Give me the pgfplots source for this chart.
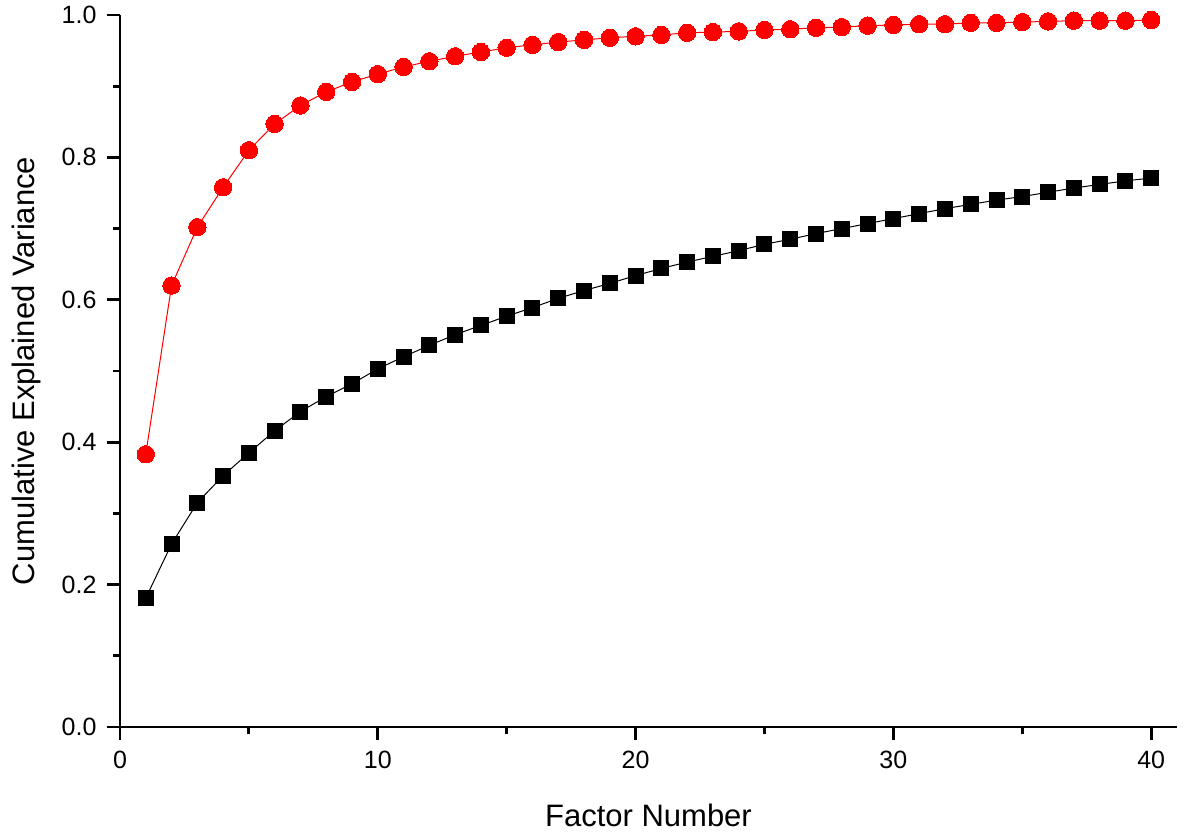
\documentclass[border=0pt]{standalone}
\usepackage{pgfplots}
\pgfplotsset{compat=1.18}
\usepackage{fontspec}
\setmainfont{Liberation Sans}
\definecolor{myred}{RGB}{255,0,0}
\begin{document}
\begin{tikzpicture}
\begin{axis}[
  scale only axis,
  width=1057pt, height=712pt,
  xmin=0, xmax=41, ymin=0, ymax=1.0,
  axis x line=bottom, axis y line=left,
  axis line style={-, line width=2.8pt},
  every outer x axis line/.append style={-, line width=2.8pt},
  every outer y axis line/.append style={-, line width=2.8pt},
  clip=false,
  xtick={0,10,20,30,40},
  ytick={0,0.2,0.4,0.6,0.8,1.0},
  minor tick num=1,
  tick align=outside,
  major tick length=13pt,
  minor tick length=7pt,
  major tick style={black, line width=2.8pt},
  minor tick style={black, line width=2.8pt},
  /pgf/number format/assume math mode=true,
  tick label style={font=\fontsize{25}{29}\selectfont},
  yticklabel style={xshift=-7pt, /pgf/number format/.cd, fixed, fixed zerofill, precision=1},
  xticklabel style={yshift=-8pt},
  xlabel={Factor Number},
  ylabel={Cumulative Explained Variance},
  label style={font=\fontsize{31}{36}\selectfont},
  xlabel style={at={([yshift=-88pt]axis description cs:0.5,0)}, anchor=center},
  ylabel style={at={([xshift=-94pt]axis description cs:0,0.5)}, anchor=center},
]
\addplot[myred, line width=1pt, mark=*, mark size=8.7pt, mark options={fill=myred, draw=myred, line width=0pt}] coordinates {
(1,0.383) (2,0.620) (3,0.702) (4,0.758) (5,0.810) (6,0.847) (7,0.873) (8,0.892) (9,0.906) (10,0.917)
(11,0.927) (12,0.935) (13,0.942) (14,0.948) (15,0.954) (16,0.958) (17,0.962) (18,0.965) (19,0.968) (20,0.970)
(21,0.972) (22,0.975) (23,0.976) (24,0.977) (25,0.979) (26,0.980) (27,0.982) (28,0.983) (29,0.985) (30,0.986)
(31,0.987) (32,0.987) (33,0.989) (34,0.989) (35,0.990) (36,0.991) (37,0.992) (38,0.992) (39,0.992) (40,0.993)
};
\addplot[black, line width=1pt, mark=square*, mark size=7.5pt, mark options={fill=black, draw=black, line width=0pt}] coordinates {
(1,0.181) (2,0.257) (3,0.315) (4,0.353) (5,0.385) (6,0.416) (7,0.443) (8,0.464) (9,0.482) (10,0.503)
(11,0.520) (12,0.536) (13,0.551) (14,0.564) (15,0.577) (16,0.589) (17,0.602) (18,0.613) (19,0.623) (20,0.634)
(21,0.644) (22,0.653) (23,0.661) (24,0.669) (25,0.678) (26,0.685) (27,0.693) (28,0.700) (29,0.707) (30,0.714)
(31,0.721) (32,0.728) (33,0.734) (34,0.740) (35,0.745) (36,0.751) (37,0.757) (38,0.762) (39,0.767) (40,0.771)
};
\end{axis}
\path[use as bounding box] (-120pt,-110pt) rectangle (1080pt,727pt);
\end{tikzpicture}
\end{document}
